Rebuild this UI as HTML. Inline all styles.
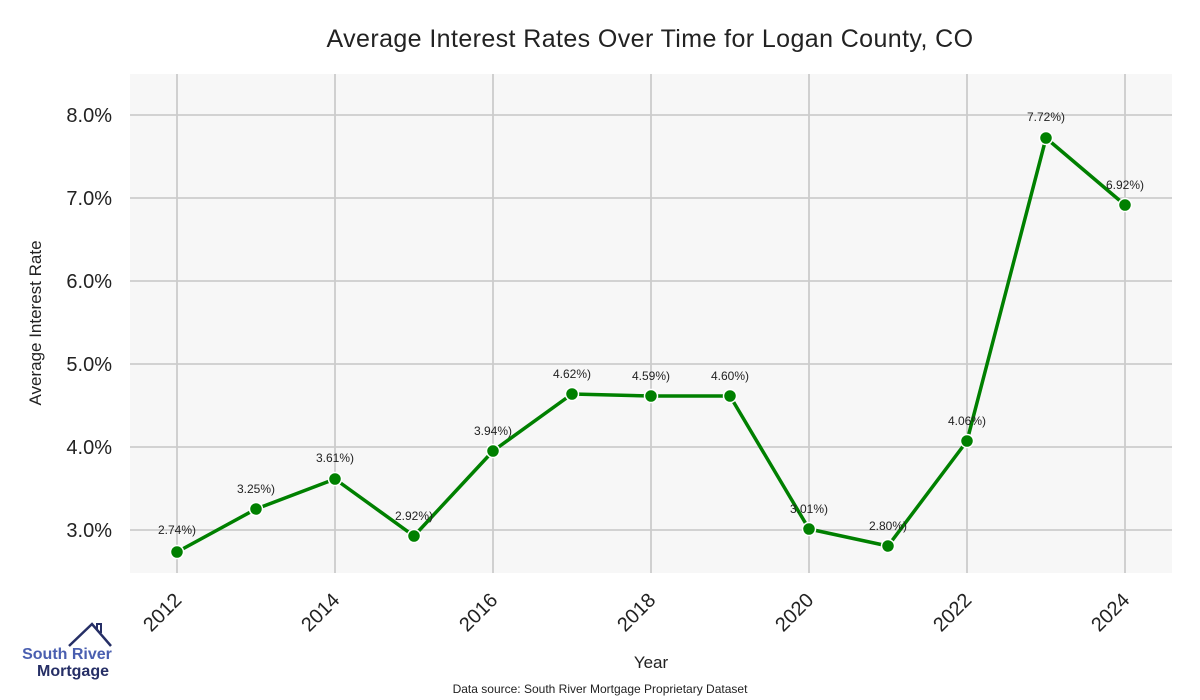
<!DOCTYPE html>
<html><head><meta charset="utf-8"><style>body{margin:0;background:#fff}svg{display:block;font-family:"Liberation Sans","DejaVu Sans",sans-serif}</style></head><body>
<svg width="1200" height="700" viewBox="0 0 1200 700">
<rect width="1200" height="700" fill="#fff"/>
<text x="650" y="47" font-size="25" letter-spacing="0.4" text-anchor="middle" fill="#222">Average Interest Rates Over Time for Logan County, CO</text>
<rect x="130" y="74" width="1042" height="499" fill="#f7f7f7"/>
<g stroke="#cccccc" stroke-width="1.8">
<line x1="130" x2="1172" y1="115" y2="115"/><line x1="130" x2="1172" y1="198" y2="198"/><line x1="130" x2="1172" y1="281" y2="281"/><line x1="130" x2="1172" y1="364" y2="364"/><line x1="130" x2="1172" y1="447" y2="447"/><line x1="130" x2="1172" y1="530" y2="530"/>
<line y1="74" y2="573" x1="177" x2="177"/><line y1="74" y2="573" x1="335" x2="335"/><line y1="74" y2="573" x1="493" x2="493"/><line y1="74" y2="573" x1="651" x2="651"/><line y1="74" y2="573" x1="809" x2="809"/><line y1="74" y2="573" x1="967" x2="967"/><line y1="74" y2="573" x1="1125" x2="1125"/>
</g>
<g font-size="20" fill="#222" text-anchor="end">
<text x="112" y="122">8.0%</text><text x="112" y="205">7.0%</text><text x="112" y="288">6.0%</text><text x="112" y="371">5.0%</text><text x="112" y="454">4.0%</text><text x="112" y="537">3.0%</text>
</g>
<g font-size="20" fill="#222" text-anchor="middle">
<text transform="translate(167,617) rotate(-45)">2012</text>
<text transform="translate(325,617) rotate(-45)">2014</text>
<text transform="translate(483,617) rotate(-45)">2016</text>
<text transform="translate(641,617) rotate(-45)">2018</text>
<text transform="translate(799,617) rotate(-45)">2020</text>
<text transform="translate(957,617) rotate(-45)">2022</text>
<text transform="translate(1115,617) rotate(-45)">2024</text>
</g>
<text x="651" y="668" font-size="17" text-anchor="middle" fill="#222">Year</text>
<text transform="translate(41,323) rotate(-90)" font-size="17" text-anchor="middle" fill="#222">Average Interest Rate</text>
<polyline fill="none" stroke="#008000" stroke-width="3.5" stroke-linejoin="round" points="177,552 256,509 335,479 414,536 493,451 572,394 651,396 730,396 809,529 888,546 967,441 1046,138 1125,205"/>
<g fill="#008000" stroke="#fff" stroke-width="1.5">
<circle cx="177" cy="552" r="6.5"/><circle cx="256" cy="509" r="6.5"/><circle cx="335" cy="479" r="6.5"/><circle cx="414" cy="536" r="6.5"/><circle cx="493" cy="451" r="6.5"/><circle cx="572" cy="394" r="6.5"/><circle cx="651" cy="396" r="6.5"/><circle cx="730" cy="396" r="6.5"/><circle cx="809" cy="529" r="6.5"/><circle cx="888" cy="546" r="6.5"/><circle cx="967" cy="441" r="6.5"/><circle cx="1046" cy="138" r="6.5"/><circle cx="1125" cy="205" r="6.5"/>
</g>
<g font-size="12" fill="#222" text-anchor="middle">
<text x="177" y="534">2.74%)</text><text x="256" y="493">3.25%)</text><text x="335" y="462">3.61%)</text><text x="414" y="520">2.92%)</text><text x="493" y="435">3.94%)</text><text x="572" y="378">4.62%)</text><text x="651" y="380">4.59%)</text><text x="730" y="380">4.60%)</text><text x="809" y="513">3.01%)</text><text x="888" y="530">2.80%)</text><text x="967" y="425">4.06%)</text><text x="1046" y="121">7.72%)</text><text x="1125" y="189">6.92%)</text>
</g>
<text x="600" y="693" font-size="12" text-anchor="middle" fill="#222">Data source: South River Mortgage Proprietary Dataset</text>
<polyline points="69,646 92,624 111,646" fill="none" stroke="#262f66" stroke-width="2.5"/>
<polyline points="97,629 97,624 101,624 101,633" fill="none" stroke="#262f66" stroke-width="2"/>
<text x="67" y="659" font-size="16" font-weight="bold" text-anchor="middle" fill="#4a5fb0">South River</text>
<text x="73" y="676" font-size="16" font-weight="bold" text-anchor="middle" fill="#262f66">Mortgage</text>
</svg>
</body></html>
